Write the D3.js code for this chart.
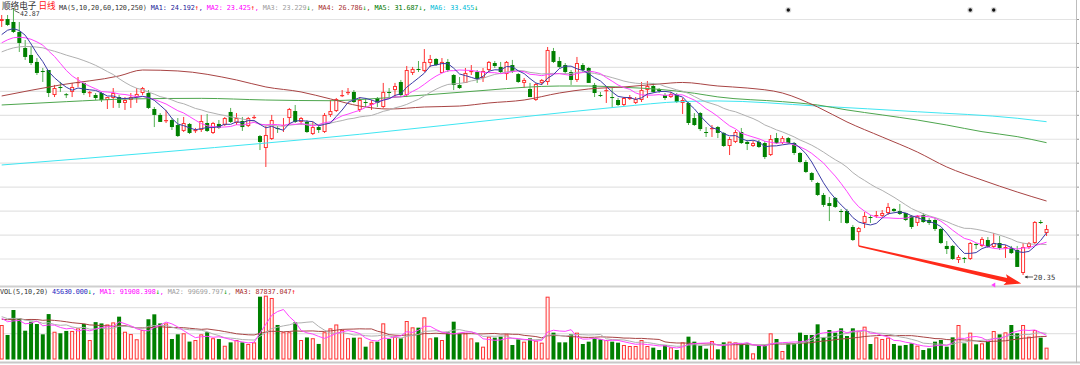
<!DOCTYPE html>
<html><head><meta charset="utf-8">
<script src="https://cdn.jsdelivr.net/npm/d3@7"></script>
<style>body{margin:0;background:#fff}svg{display:block}</style>
</head><body>
<svg id="c" width="1080" height="365"></svg>
<script>
// ---------------- data ----------------
const opens = [
41.77,41.94,41.69,40.85,39.50,38.91,38.32,37.56,37.64,35.53,
36.21,35.60,35.79,36.55,36.55,35.70,35.53,35.70,35.11,35.28,
35.36,34.86,35.11,35.36,35.70,35.70,34.35,33.85,33.34,33.42,
33.00,32.50,33.09,32.50,32.58,33.17,32.33,33.09,33.00,34.10,
33.17,33.34,32.92,33.59,32.07,31.06,31.82,32.75,32.92,33.59,
34.18,33.26,33.26,32.24,32.83,32.41,33.85,34.18,35.45,35.70,
35.79,34.27,34.94,34.69,35.28,34.52,35.79,35.95,36.63,35.53,
37.39,37.73,37.56,38.23,38.57,37.39,38.32,37.22,36.38,36.55,
37.47,37.47,36.97,37.64,38.23,37.90,37.30,38.06,37.30,36.55,
36.04,35.11,36.55,36.63,39.24,38.40,38.06,37.47,36.80,38.06,
37.81,36.38,35.53,35.87,35.36,35.11,34.69,35.19,34.86,35.11,
35.95,36.29,36.04,35.53,35.36,35.53,34.86,34.86,33.59,34.01,
32.41,32.66,32.83,32.33,31.23,31.57,32.41,31.57,31.23,31.57,
31.48,30.47,31.90,31.48,31.90,31.48,30.64,29.88,28.95,28.11,
27.10,26.42,26.85,25.75,25.75,24.40,23.97,24.74,25.24,25.33,
25.33,25.58,25.92,25.75,25.58,25.33,24.74,25.41,24.99,24.99,
24.23,22.80,22.80,21.62,21.79,21.70,22.96,22.80,23.30,22.71,
23.05,22.63,22.63,22.46,20.52,22.71,23.05,24.82,23.89];
const highs = [
42.28,42.28,42.87,41.69,40.17,39.58,38.65,37.81,37.64,36.38,
36.63,35.70,36.55,37.05,36.55,35.87,35.70,35.79,35.36,36.12,
35.53,35.36,35.70,36.12,36.21,35.95,34.52,34.01,34.27,33.59,
33.59,33.68,33.17,32.75,33.85,33.93,33.26,33.42,33.68,34.44,
34.01,33.68,33.68,33.85,32.16,32.92,33.85,32.92,33.59,34.44,
34.69,33.68,33.42,33.26,33.00,34.01,35.11,35.28,35.95,36.12,
35.95,35.36,35.28,35.11,35.36,36.55,36.12,36.55,36.80,37.98,
37.90,38.40,39.41,38.91,38.65,38.65,38.57,37.30,37.05,37.81,
38.06,37.64,37.81,38.40,38.40,38.32,38.40,38.49,37.39,36.97,
36.55,36.55,36.88,39.58,39.50,38.74,38.23,37.64,38.74,38.23,
37.90,36.55,35.79,36.21,36.12,35.28,35.36,35.53,35.36,36.63,
36.71,36.55,36.12,35.70,35.79,35.70,35.28,34.94,34.01,34.10,
32.83,33.00,32.92,32.41,31.99,32.58,32.75,31.74,31.65,31.74,
31.65,32.16,32.33,32.07,31.99,31.57,30.72,30.05,29.04,28.20,
27.27,26.93,26.93,25.92,25.92,24.57,24.40,25.66,25.41,25.75,
25.83,26.42,26.00,26.34,25.58,25.41,25.41,25.58,25.16,25.16,
24.31,23.22,22.88,22.04,21.87,23.13,23.05,23.55,23.55,23.89,
23.64,22.88,22.80,22.80,23.05,23.13,24.90,24.99,24.57];
const lows = [
41.27,41.35,40.76,39.16,38.49,38.06,37.22,36.63,35.36,35.36,
35.79,35.28,35.36,36.21,35.53,35.36,35.11,34.94,34.35,34.44,
34.44,34.27,34.44,34.86,35.53,34.35,32.83,33.26,33.17,32.58,
31.99,32.41,32.24,32.33,32.41,32.41,32.24,32.66,32.92,33.17,
33.00,32.50,32.83,33.51,30.89,29.46,31.74,32.33,32.41,33.00,
33.17,33.00,32.33,32.16,32.33,32.33,33.68,34.10,35.36,35.53,
34.86,34.10,34.52,34.27,34.52,34.44,35.36,35.36,35.36,35.36,
37.22,37.47,37.47,37.90,37.98,37.39,37.47,35.95,36.04,36.55,
37.22,36.55,36.63,37.47,37.81,37.39,36.80,37.39,36.55,36.12,
35.36,35.03,36.38,36.38,38.23,37.81,37.30,36.38,36.63,37.47,
36.55,35.36,35.36,34.86,34.44,34.60,34.60,35.11,34.77,34.94,
35.28,35.70,35.70,35.11,35.28,34.86,33.93,33.00,32.92,32.50,
31.99,31.99,31.90,31.15,30.47,31.48,31.40,30.89,31.15,31.06,
30.13,30.39,31.40,31.40,31.40,30.47,29.80,28.95,28.20,27.01,
26.09,24.90,26.00,24.74,24.65,23.22,22.80,24.31,24.74,25.16,
25.24,25.41,25.66,25.41,24.90,24.23,24.48,24.74,24.57,24.06,
22.96,22.12,21.62,21.36,21.36,21.62,22.54,22.71,22.63,22.63,
22.46,21.79,22.12,21.03,20.35,22.54,22.96,24.65,23.64];
const closes = [
41.94,41.44,40.85,39.92,38.74,38.23,37.39,37.47,35.70,36.12,
36.12,35.53,36.21,36.63,35.70,35.78,35.28,35.11,35.36,35.70,
34.86,35.11,35.36,35.62,36.12,34.44,33.85,33.26,33.42,32.83,
32.07,33.17,32.33,32.58,33.34,32.50,33.17,32.75,33.59,33.26,
33.59,32.83,33.59,33.68,31.57,32.16,33.42,32.66,33.00,34.35,
33.26,33.59,32.41,32.83,32.58,33.85,34.18,35.19,35.53,35.79,
34.94,35.11,34.86,34.86,34.86,35.79,35.70,36.29,35.53,37.64,
37.73,37.64,38.32,38.57,38.06,38.32,37.64,36.38,36.12,37.39,
37.56,36.88,37.56,38.32,37.98,37.47,38.32,37.47,36.63,36.80,
35.36,36.46,36.80,39.33,38.32,37.90,37.47,36.80,38.23,37.64,
36.55,35.70,35.45,35.95,35.28,34.69,35.28,35.36,35.19,35.95,
36.29,35.79,35.87,35.28,35.62,34.94,35.11,33.17,33.00,32.66,
32.33,32.75,32.33,31.23,31.82,32.41,31.48,31.40,31.48,31.15,
30.30,31.82,31.48,31.90,31.48,30.64,29.88,29.04,28.36,27.10,
26.26,26.17,26.09,25.66,24.74,23.30,24.31,25.33,25.16,25.41,
25.58,26.09,25.75,25.50,24.99,24.40,25.33,24.82,24.74,24.23,
23.05,22.54,21.70,21.87,21.70,23.05,22.88,23.39,22.71,23.05,
22.63,22.71,22.20,21.03,22.71,23.05,24.82,24.74,24.23];
const volumes = [
132900,94400,190700,158700,111000,145600,136700,97000,175000,107000,
101000,110000,110000,120000,137000,75000,144000,139000,135000,143000,
165000,107000,98000,78000,114000,155000,174000,139000,139000,79000,
97000,101000,69000,75000,97000,105000,82000,79000,53000,66000,
75000,66000,60000,66000,242000,246000,237000,133000,105000,105000,
143000,75000,85000,82000,60000,105000,120000,135000,114000,82000,
84000,84100,49400,68700,68700,139300,79000,88000,81500,148300,
123900,122600,162400,81500,85400,75100,104600,145700,100800,100800,
81500,66100,49400,88000,84100,88000,96900,55900,77700,68700,
81500,72500,64800,242000,103400,66100,66100,96900,103400,59700,
68700,81500,77700,75100,68700,64800,55900,52000,52000,75100,
52000,45600,36600,55900,46900,36600,66100,88000,68700,53300,
41700,71300,39200,66100,68700,66100,62300,62300,23800,55900,
55900,100800,79000,32700,62300,62300,103400,94400,94400,135500,
85400,113600,103400,120100,90500,120100,111100,126500,59700,85400,
79000,84100,59700,53300,55900,62300,53300,36600,43000,68700,
75100,49400,85400,132900,62300,103400,58400,62300,68700,109800,
96900,104600,132900,100800,132900,88000,113600,84100,45630];

// closes / volumes before the visible window (feed the short moving averages)
const prevCloses = [37.6,37.9,38.2,38.0,38.5,38.3,38.6,38.9,38.8,39.2,38.9,39.1,39.5,39.2,39.5,39.6,40.2,40.7,40.7];
const prevVolumes = [130000,150000,140000,160000,135000,145000,155000,150000,140000,145000,170000,180000,165000,175000,166500,160000,175000,150000,175600];

// long moving averages (candle index, value)
const ma60Idx = [0,10,20,24,30,40,45,51,56,61,66,72,78,83,89,95,100,106,112,116,122,127,133,139,144,150,156,161,167,173,178];
const ma60Val = [35.45,36.38,37.14,37.64,37.56,36.80,36.21,35.79,35.20,34.60,34.35,34.52,34.60,34.86,35.11,35.70,36.04,36.21,36.46,36.59,36.29,36.12,35.70,34.52,33.26,31.99,30.72,29.46,28.36,27.35,26.59];
const ma120Idx = [0,11,22,34,45,56,61,72,83,89,95,100,106,112,118,122,133,139,144,150,156,161,167,173,178];
const ma120Val = [34.69,34.97,35.20,35.25,35.11,35.05,35.15,35.53,35.95,36.18,36.29,36.29,36.18,36.01,35.68,35.37,34.97,34.69,34.27,33.85,33.42,33.00,32.44,32.02,31.51];
const ma250Idx = [0,28,61,89,105,116,122,139,156,173,178];
const ma250Val = [29.63,30.75,32.22,33.70,34.52,34.98,35.03,34.60,34.12,33.57,33.28];

const priceGrid = [21.70,23.72,25.74,27.76,29.78,31.80,33.82,35.84,37.86,39.88,41.90];
const volGrid = [100000,200000];

const stockName = "顺络电子", period = "日线", maParams = "MA(5,10,20,60,120,250)";
const maNames = ["MA1","MA2","MA3","MA4","MA5","MA6"];
const maLast = ["24.192","23.425","23.229","26.786","31.687","33.455"];
const maDir = ["↑","↑","↓","↓","↓","↓"];
const volParams = "VOL(5,10,20)", volLast = "45630.000", volDir = "↓";
const volMaLast = ["91908.398","99699.797","87837.047"], volMaDir = ["↓","↓","↑"];
const highLabel = "42.87", lowLabel = "20.35";
const starIdx = [134,165,169];
const markIdx = 169;

// ---------------- drawing ----------------
const N = closes.length;
const svg = d3.select("#c");
const cx = d3.scaleLinear().domain([0, N - 1]).range([1.7, 1.7 + 5.87 * (N - 1)]);
const yP = d3.scaleLinear().domain([20.35, 42.87]).range([275, 8]);
const yV = d3.scaleLinear().domain([0, 250000]).range([359.5, 294.6]);
const RIGHT = 1076;

const UP = "#ff3333", DOWN = "#008000";
const maColors = ["#3b3ba6","#ff44ff","#b0b0b0","#a84444","#4ea64e","#3fe6f2"];
const maTextColors = ["#1f1f9a","#ff00ff","#a0a0a0","#a83030","#007800","#00bcd8"];
const volMaColors = ["#ff44ff","#b0b0b0","#a84444"];
const volMaTextColors = ["#ff00ff","#a0a0a0","#a83030"];

// grids
const g0 = svg.append("g");
g0.selectAll("line.pg").data(priceGrid).join("line")
  .attr("x1", 0).attr("x2", RIGHT).attr("y1", d => yP(d)).attr("y2", d => yP(d))
  .attr("stroke", "#e3e3e3").attr("stroke-width", 1.2);
g0.selectAll("line.vg").data(volGrid).join("line")
  .attr("x1", 0).attr("x2", RIGHT).attr("y1", d => yV(d)).attr("y2", d => yV(d))
  .attr("stroke", "#e3e3e3").attr("stroke-width", 1.2);
g0.selectAll("line.tk").data(priceGrid).join("line")
  .attr("x1", RIGHT).attr("x2", RIGHT + 3).attr("y1", d => yP(d)).attr("y2", d => yP(d))
  .attr("stroke", "#999");
// frame lines
g0.append("line").attr("x1", 0).attr("x2", 1080).attr("y1", 286.5).attr("y2", 286.5).attr("stroke", "#cfcfcf").attr("stroke-width", 2);
g0.append("line").attr("x1", 0).attr("x2", 1080).attr("y1", 362.5).attr("y2", 362.5).attr("stroke", "#c8c8c8").attr("stroke-width", 2);
g0.append("line").attr("x1", RIGHT + 0.5).attr("x2", RIGHT + 0.5).attr("y1", 0).attr("y2", 363).attr("stroke", "#bdbdbd");

const idx = d3.range(N);
const isUp = i => closes[i] >= opens[i];

// candles
const gc = svg.append("g");
gc.selectAll("line.w").data(idx).join("line")
  .attr("x1", i => cx(i)).attr("x2", i => cx(i))
  .attr("y1", i => yP(highs[i])).attr("y2", i => yP(lows[i]))
  .attr("stroke", i => isUp(i) ? UP : "#52b052").attr("stroke-width", 1);
gc.selectAll("rect.b").data(idx).join("rect")
  .attr("x", i => isUp(i) ? cx(i) - 1.5 : cx(i) - 2)
  .attr("width", i => isUp(i) ? 3 : 4)
  .attr("y", i => isUp(i) ? yP(closes[i]) + 0.5 : yP(opens[i]))
  .attr("height", i => {
    const h = Math.abs(yP(opens[i]) - yP(closes[i]));
    return isUp(i) ? Math.max(0.2, h - 1) : Math.max(1, h);
  })
  .attr("fill", i => isUp(i) ? "#fff" : DOWN)
  .attr("stroke", i => isUp(i) ? UP : "none").attr("stroke-width", 1);

// volume bars
const gv = svg.append("g");
gv.selectAll("rect").data(idx).join("rect")
  .attr("x", i => isUp(i) ? cx(i) - 1.5 : cx(i) - 2)
  .attr("width", i => isUp(i) ? 3 : 4)
  .attr("y", i => isUp(i) ? yV(volumes[i]) + 0.5 : yV(volumes[i]))
  .attr("height", i => isUp(i) ? yV(0) - yV(volumes[i]) - 1 : yV(0) - yV(volumes[i]))
  .attr("fill", i => isUp(i) ? "#fff3f3" : DOWN)
  .attr("stroke", i => isUp(i) ? UP : "none");

// moving averages
function movingAvg(prev, arr, n) {
  const full = prev.concat(arr), off = prev.length;
  return arr.map((_, i) => d3.mean(full.slice(off + i - n + 1, off + i + 1)));
}
const lineP = d3.line().x((d, i) => cx(i)).y(d => yP(d));
const lineV = d3.line().x((d, i) => cx(i)).y(d => yV(d));
const lineS = d3.line().curve(d3.curveMonotoneX).x(d => cx(d[0])).y(d => yP(d[1]));
const gm = svg.append("g").attr("fill", "none");
[[ma250Idx, ma250Val, 5], [ma120Idx, ma120Val, 4], [ma60Idx, ma60Val, 3]].forEach(([ix, v, k]) => {
  gm.append("path").attr("d", lineS(d3.zip(ix, v))).attr("stroke", maColors[k]).attr("stroke-width", 1);
});
[20, 10, 5].forEach((n, j) => {
  const k = 2 - j;
  gm.append("path").attr("d", lineP(movingAvg(prevCloses, closes, n))).attr("stroke", maColors[k]).attr("stroke-width", 1);
});
[20, 10, 5].forEach((n, j) => {
  const k = 2 - j;
  gm.append("path").attr("d", lineV(movingAvg(prevVolumes, volumes, n))).attr("stroke", volMaColors[k]).attr("stroke-width", 1);
});

// legends
const mono = "'DejaVu Sans Mono', 'Liberation Mono', monospace";
const cjk = "'Noto Sans CJK SC', sans-serif";
svg.append("text").attr("x", 2).attr("y", 9).attr("font-family", cjk).attr("font-size", 8.6).attr("fill", "#333").text(stockName);
svg.append("text").attr("x", 38.5).attr("y", 9).attr("font-family", cjk).attr("font-size", 8.6).attr("fill", "#ff2020").text(period);
const t1 = svg.append("text").attr("x", 59).attr("y", 9.5).attr("font-family", mono).attr("font-size", 6.8)
  .attr("letter-spacing", -0.1).style("white-space", "pre");
t1.append("tspan").attr("fill", "#333").text(maParams + " ");
maNames.forEach((nm, k) => {
  t1.append("tspan").attr("fill", maTextColors[k]).text(nm + ": " + maLast[k]);
  t1.append("tspan").attr("fill", maDir[k] === "↑" ? "#ff0000" : "#00a000").text(maDir[k]);
  if (k < maNames.length - 1) t1.append("tspan").attr("fill", maTextColors[k]).text(", ");
});
const t2 = svg.append("text").attr("x", 0).attr("y", 294).attr("font-family", mono).attr("font-size", 6.8)
  .attr("letter-spacing", -0.1).style("white-space", "pre");
t2.append("tspan").attr("fill", "#333").text(volParams + " ");
t2.append("tspan").attr("fill", "#2424c0").text(volLast);
t2.append("tspan").attr("fill", "#00a000").text(volDir);
t2.append("tspan").attr("fill", "#2424c0").text(", ");
volMaLast.forEach((v, k) => {
  t2.append("tspan").attr("fill", volMaTextColors[k]).text("MA" + (k + 1) + ": " + v);
  t2.append("tspan").attr("fill", volMaDir[k] === "↑" ? "#ff0000" : "#00a000").text(volMaDir[k]);
  if (k < 2) t2.append("tspan").attr("fill", volMaTextColors[k]).text(", ");
});

// high / low labels
const hiI = highs.indexOf(d3.max(highs)), loI = lows.indexOf(d3.min(lows));
const hx = cx(hiI), hy = yP(highs[hiI]);
svg.append("line").attr("x1", hx + 1).attr("y1", hy + 2.5).attr("x2", hx + 6).attr("y2", hy + 5).attr("stroke", "#333").attr("stroke-width", 0.8);
svg.append("text").attr("x", hx + 6.5).attr("y", hy + 8).attr("font-family", mono).attr("font-size", 6.6).attr("fill", "#333").text(highLabel);
const lx = cx(loI), ly = yP(lows[loI]);
svg.append("line").attr("x1", lx + 2).attr("y1", ly + 2).attr("x2", lx + 10).attr("y2", ly + 2).attr("stroke", "#333").attr("stroke-width", 0.8);
svg.append("path").attr("d", `M${lx + 1.5},${ly + 2}l3,-1.6v3.2z`).attr("fill", "#333");
svg.append("text").attr("x", lx + 10.5).attr("y", ly + 5).attr("font-family", mono).attr("font-size", 7.2).attr("fill", "#333").text(lowLabel);

// red trend arrow (from low of candle 146 to just below the 20.35 low)
const ax0 = cx(146), ay0 = yP(lows[146]);
const ax1 = cx(173.7), ay1 = yP(19.64);
const dx = ax1 - ax0, dy = ay1 - ay0, L = Math.hypot(dx, dy);
const ux = dx / L, uy = dy / L, nx = -uy, ny = ux;
const P = (t, w) => [ax0 + ux * t + nx * w, ay0 + uy * t + ny * w];
const hb = L - 15;
const pts = [P(0, 0.7), P(hb, 2.2), P(hb - 2, 5.5), P(L, 0), P(hb - 2, -5.5), P(hb, -2.2), P(0, -0.7)];
svg.append("polygon").attr("points", pts.map(p => p.join(",")).join(" ")).attr("fill", "#ff2a1a");

// small marks
svg.append("path").attr("d", `M${cx(markIdx) - 2.5},285l4,-2.5v5z`).attr("fill", "#ff40ff");
const gs = svg.append("g");
starIdx.forEach(i => {
  gs.append("circle").attr("cx", cx(i)).attr("cy", 10).attr("r", 3).attr("fill", "#d8d8d8");
  gs.append("circle").attr("cx", cx(i)).attr("cy", 10).attr("r", 1.7).attr("fill", "#111");
});
</script>
</body></html>
